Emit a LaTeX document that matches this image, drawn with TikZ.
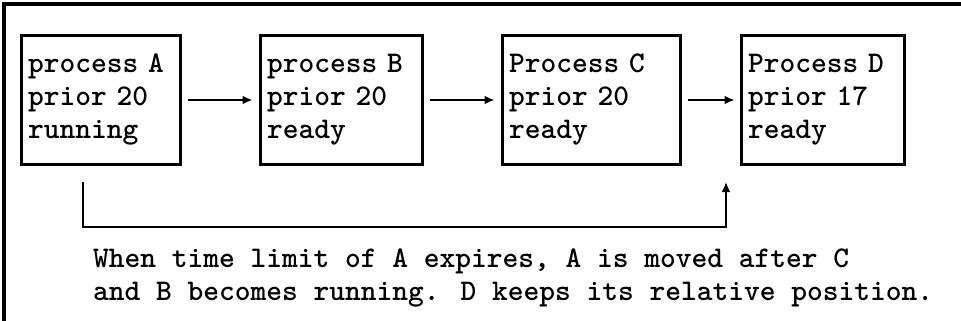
\documentclass[tikz,border=0pt]{standalone}
\usetikzlibrary{arrows.meta}
\begin{document}
\begin{tikzpicture}[x=1pt,y=-1pt,
  every node/.style={font=\fontsize{30}{33}\selectfont\ttfamily\bfseries},
  procbox/.style={draw, line width=3pt, rectangle, align=left, inner xsep=7pt, inner ysep=0pt, minimum height=128pt},
  flow/.style={line width=2.8pt, -{Latex[length=10pt,width=9pt]}},
  frameline/.style={line width=3.5pt}]
\useasboundingbox (0,0) rectangle (961,321);
\draw[frameline] (4,321) -- (4,4) -- (961,4);
\node[procbox, text width=145pt] (A) at (100.5,100) {process A\\prior 20\\running};
\node[procbox, text width=148pt] (B) at (341,100) {process B\\prior 20\\ready};
\node[procbox, text width=164pt] (C) at (591,100) {Process C\\prior 20\\ready};
\node[procbox, text width=149pt] (D) at (822.5,100) {Process D\\prior 17\\ready};
\draw[flow, shorten <=6pt, shorten >=6pt] (A.east) -- (B.west);
\draw[flow, shorten <=6pt, shorten >=6pt] (B.east) -- (C.west);
\draw[flow, shorten <=6pt, shorten >=5pt] (C.east) -- (D.west);
\coordinate (s) at (83,182);
\coordinate (e) at (726,182);
\draw[flow] (s) -- (83,227) -- (726,227) -- (e);
\node[anchor=north west, inner sep=0pt, align=left] (note) at (93,249)
  {When time limit of A expires, A is moved after C\\and B becomes running. D keeps its relative position.};
\end{tikzpicture}
\end{document}
